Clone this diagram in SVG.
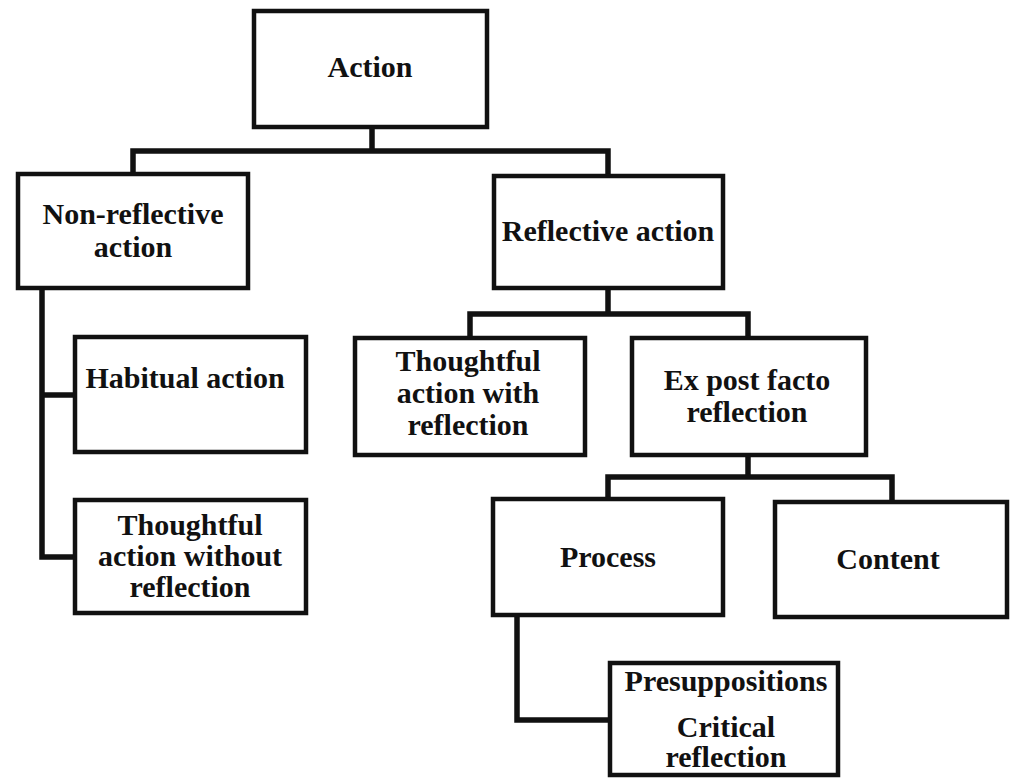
<svg xmlns="http://www.w3.org/2000/svg" width="1013" height="778" viewBox="0 0 1013 778">
<style>
.box{fill:#fff;stroke:#111;stroke-width:4.5}
.t{font-family:"Liberation Serif","Times New Roman",serif;font-weight:bold;font-size:30px;fill:#111;text-anchor:middle}
.c{fill:none;stroke:#111;stroke-width:5.5;stroke-linejoin:miter;stroke-linecap:square}
</style>
<rect width="1013" height="778" fill="#fff"/>
<g id="connectors">
<path class="c" d="M372,127 V151 M133,151 H608 M133,151 V174 M608,151 V176"/>
<path class="c" d="M42,288 V557 H75 M42,395 H75"/>
<path class="c" d="M608,288 V314 M470,314 H748 M470,314 V338 M748,314 V338"/>
<path class="c" d="M748,455 V477 M608,477 H892 M608,477 V499 M892,477 V502"/>
<path class="c" d="M517,615 V720 H610"/>
</g>
<g id="action"><rect class="box" x="254" y="11" width="233" height="116"/><text class="t" x="370" y="77">Action</text></g>
<g id="non-reflective"><rect class="box" x="18" y="174" width="230" height="114"/><text class="t" x="133" y="224">Non-reflective</text><text class="t" x="133" y="257">action</text></g>
<g id="reflective"><rect class="box" x="494" y="176" width="229" height="112"/><text class="t" x="608" y="241">Reflective action</text></g>
<g id="habitual"><rect class="box" x="75" y="337" width="231" height="115"/><text class="t" x="185" y="388">Habitual action</text></g>
<g id="thoughtful-without"><rect class="box" x="75" y="500" width="231" height="113"/><text class="t" x="190" y="535">Thoughtful</text><text class="t" x="190" y="566">action without</text><text class="t" x="190" y="597">reflection</text></g>
<g id="thoughtful-with"><rect class="box" x="355" y="338" width="230" height="117"/><text class="t" x="468" y="371">Thoughtful</text><text class="t" x="468" y="403">action with</text><text class="t" x="468" y="435">reflection</text></g>
<g id="ex-post-facto"><rect class="box" x="632" y="338" width="234" height="117"/><text class="t" x="747" y="390">Ex post facto</text><text class="t" x="747" y="422">reflection</text></g>
<g id="process"><rect class="box" x="493" y="499" width="230" height="116"/><text class="t" x="608" y="567">Process</text></g>
<g id="content"><rect class="box" x="775" y="502" width="232" height="115"/><text class="t" x="888" y="569">Content</text></g>
<g id="presuppositions"><rect class="box" x="610" y="663" width="228" height="112"/><text class="t" x="726" y="691">Presuppositions</text><text class="t" x="726" y="737">Critical</text><text class="t" x="726" y="767">reflection</text></g>
</svg>
